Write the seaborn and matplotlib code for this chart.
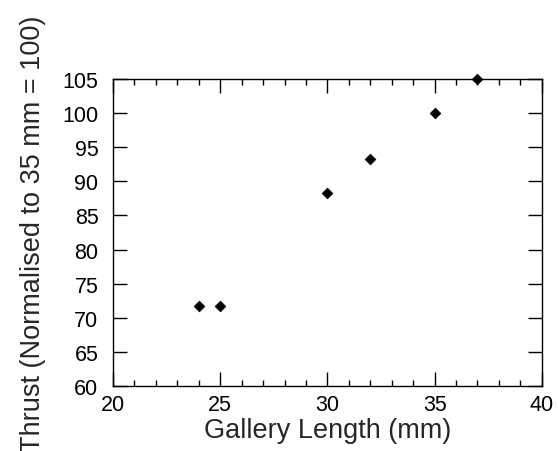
import matplotlib
matplotlib.use("Agg")
import matplotlib.pyplot as plt
from matplotlib.ticker import MultipleLocator
import seaborn as sns
import pandas as pd

# Data
gallery_length = [24, 25, 30, 32, 35, 37]
thrust = [71.7, 71.7, 88.3, 93.3, 100.0, 105.0]

df = pd.DataFrame({"Gallery Length (mm)": gallery_length, "Thrust": thrust})

sns.set_style("ticks")
plt.rcParams["font.family"] = ["Liberation Sans", "DejaVu Sans"]

fig = plt.figure(figsize=(5.58, 4.52), dpi=100)
ax = fig.add_axes([0.2025, 0.1438, 0.7685, 0.6792])

sns.scatterplot(data=df, x="Gallery Length (mm)", y="Thrust", marker="D",
                color="black", s=30, edgecolor="black", linewidth=0.5,
                ax=ax, zorder=3, clip_on=False)

ax.set_xlim(20, 40)
ax.set_ylim(60, 105)
ax.xaxis.set_major_locator(MultipleLocator(5))
ax.xaxis.set_minor_locator(MultipleLocator(1))
ax.yaxis.set_major_locator(MultipleLocator(5))

for side in ["top", "right", "left", "bottom"]:
    ax.spines[side].set_visible(True)
    ax.spines[side].set_linewidth(1.0)
    ax.spines[side].set_color("black")

ax.tick_params(which="both", direction="in", top=True, right=True,
               colors="black", width=1.0)
ax.tick_params(which="major", length=10)
ax.tick_params(which="minor", length=4.5)
ax.tick_params(axis="y", which="major", pad=10.5, labelsize=15.5)
ax.tick_params(axis="x", which="major", pad=5.5, labelsize=15.5)

ax.set_xlabel("Gallery Length (mm)", fontsize=19.5, labelpad=2)
ax.set_ylabel("Thrust (Normalised to 35 mm = 100)", fontsize=19.5, labelpad=12)

fig.savefig("out.png", dpi=100)
